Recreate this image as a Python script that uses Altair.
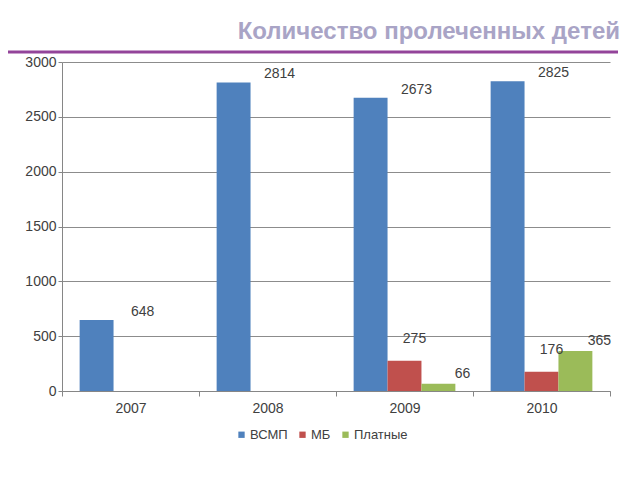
import altair as alt
import pandas as pd

years = ["2007", "2008", "2009", "2010"]
series = ["ВСМП", "МБ", "Платные"]
vsmp = [648, 2814, 2673, 2825]
mb = [None, None, 275, 176]
paid = [None, None, 66, 365]
colors = ["#4F81BD", "#C0504D", "#9BBB59"]
title_text = "Количество пролеченных детей"

rows = []
for i, y in enumerate(years):
    for s, vals in zip(series, [vsmp, mb, paid]):
        if vals[i] is not None:
            rows.append({"year": y, "series": s, "value": vals[i]})
df = pd.DataFrame(rows)

FONT = "Liberation Sans"
TXT = "#404040"

x_enc = alt.X("year:N", sort=years, title=None,
              scale=alt.Scale(paddingInner=0, paddingOuter=0),
              axis=alt.Axis(labelAngle=0, labelFontSize=14, labelColor=TXT, labelFont=FONT,
                            domainColor="#868686", tickColor="#868686", tickBand="extent",
                            tickSize=5, labelPadding=5, grid=False))
xoff = alt.XOffset("series:N", sort=series,
                   scale=alt.Scale(domain=series, paddingInner=0, paddingOuter=0.52))
y_enc = alt.Y("value:Q", title=None,
              scale=alt.Scale(domain=[0, 3000], nice=False),
              axis=alt.Axis(values=[0, 500, 1000, 1500, 2000, 2500, 3000], format="d",
                            labelFontSize=14, labelColor=TXT, labelFont=FONT,
                            gridColor="#8C8C8C", domainColor="#868686", tickColor="#868686",
                            tickSize=4, labelPadding=2))

bars = alt.Chart(df).mark_bar().encode(
    x=x_enc, xOffset=xoff, y=y_enc,
    color=alt.Color("series:N", sort=series,
                    scale=alt.Scale(domain=series, range=colors),
                    legend=alt.Legend(title=None, orient="none", direction="horizontal",
                                      legendX=173, legendY=366, symbolType="square",
                                      symbolSize=40, symbolStrokeWidth=0,
                                      labelFontSize=13, labelFont=FONT, labelColor=TXT,
                                      columnPadding=8, symbolOffset=0, labelOffset=2))
)

def labels(name, dx, dy):
    return alt.Chart(df).transform_filter(alt.datum.series == name).mark_text(
        dx=dx, dy=dy, fontSize=14, font=FONT, color=TXT, baseline="bottom"
    ).encode(x=alt.X("year:N", sort=years), xOffset=alt.XOffset("series:N", sort=series),
             y="value:Q", text="value:Q")

line = alt.Chart(alt.Data(values=[{}])).mark_rule(color="#93449A", strokeWidth=3).encode(
    x=alt.value(-54), x2=alt.value(556), y=alt.value(-10))
title = alt.Chart(alt.Data(values=[{}])).mark_text(
    text=title_text, align="right", baseline="alphabetic", fontSize=24,
    fontWeight="bold", font=FONT, color="#A9A4C6").encode(
    x=alt.value(558), y=alt.value(-23))

chart = alt.layer(
    bars,
    labels("ВСМП", 46, -1),
    labels("МБ", 10, -15),
    labels("Платные", 24, -3),
    line, title,
).properties(
    width=548, height=329,
    autosize=alt.AutoSizeParams(type="none"),
    padding={"left": 54, "top": 54, "right": 16, "bottom": 80},
).configure_view(stroke=None)

chart.save("out.html", embed_options={"renderer": "svg", "actions": False})
